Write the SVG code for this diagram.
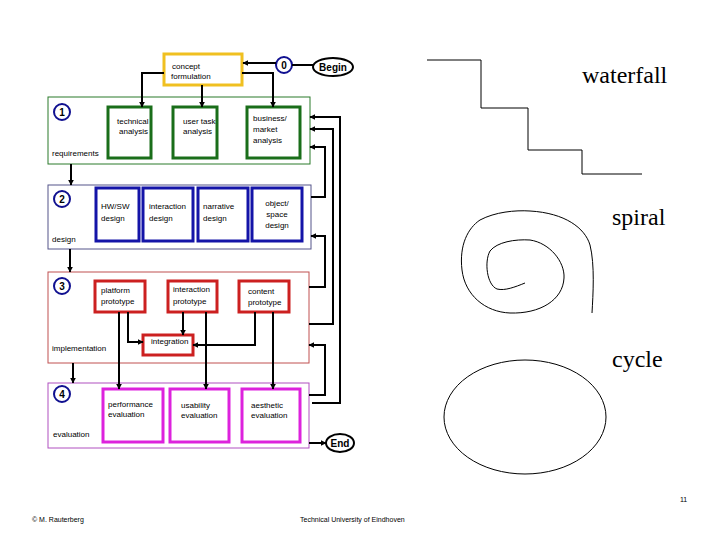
<svg xmlns="http://www.w3.org/2000/svg" width="720" height="540" viewBox="0 0 720 540">
<style>
.t{font-family:"Liberation Sans",Arial,sans-serif;font-size:8px;fill:#000}
.n{font-family:"Liberation Sans",Arial,sans-serif;font-size:10px;font-weight:bold;fill:#000}
.big{font-family:"Liberation Serif","Times New Roman",serif;font-size:24px;fill:#000}
.f{font-family:"Liberation Sans",Arial,sans-serif;font-size:7px;fill:#000}
.c{fill:none;stroke:#000;stroke-width:2}
.num{fill:#fff;stroke:#101090;stroke-width:2}
.yel{fill:#fff;stroke:#f0c020;stroke-width:3}
.gO{fill:#fff;stroke:#2a7a2a;stroke-width:1}
.gI{fill:#fff;stroke:#1a6e1a;stroke-width:3}
.bO{fill:#fff;stroke:#55558a;stroke-width:1}
.bI{fill:#fff;stroke:#1414a8;stroke-width:3}
.rO{fill:#fff;stroke:#c05050;stroke-width:1}
.rI{fill:#fff;stroke:#cc2020;stroke-width:3}
.mO{fill:#fff;stroke:#b050c0;stroke-width:1}
.mI{fill:#fff;stroke:#dd22dd;stroke-width:3}
.thin{fill:none;stroke:#000;stroke-width:1}
</style>
<defs>
<marker id="ah" viewBox="0 0 10 10" refX="9" refY="5" markerWidth="3" markerHeight="3" orient="auto" markerUnits="strokeWidth">
<path d="M0,0 L10,5 L0,10 z" fill="#000"/>
</marker>
</defs>

<g id="begin">
<ellipse cx="333" cy="67" rx="20" ry="9" fill="#fff" stroke="#000" stroke-width="2"/>
<text class="n" x="333" y="71" text-anchor="middle">Begin</text>
</g>
<g id="step0">
<circle class="num" cx="284" cy="65" r="8"/>
<text class="n" x="284" y="69" text-anchor="middle">0</text>
</g>
<g id="concept">
<rect class="yel" x="164" y="54" width="78" height="31"/>
<text class="t" x="172" y="69">concept</text>
<text class="t" x="171" y="79">formulation</text>
</g>

<g id="requirements">
<rect class="gO" x="48" y="97" width="262" height="67"/>
<circle class="num" cx="62" cy="112" r="8"/>
<text class="n" x="62" y="116" text-anchor="middle">1</text>
<text class="t" x="52" y="156">requirements</text>
</g>
<g id="technical">
<rect class="gI" x="108" y="107" width="43" height="51"/>
<text class="t" x="117" y="124">technical</text>
<text class="t" x="119" y="134">analysis</text>
</g>
<g id="usertask">
<rect class="gI" x="173" y="107" width="44" height="51"/>
<text class="t" x="183" y="124">user task</text>
<text class="t" x="183" y="134">analysis</text>
</g>
<g id="business">
<rect class="gI" x="247" y="107" width="53" height="51"/>
<text class="t" x="253" y="121">business/</text>
<text class="t" x="253" y="132">market</text>
<text class="t" x="253" y="143">analysis</text>
</g>

<g id="design">
<rect class="bO" x="48" y="185" width="263" height="64"/>
<circle class="num" cx="62" cy="199" r="8"/>
<text class="n" x="62" y="203" text-anchor="middle">2</text>
<text class="t" x="52" y="242">design</text>
</g>
<g id="hwsw">
<rect class="bI" x="96" y="188" width="43" height="53"/>
<text class="t" x="101" y="209">HW/SW</text>
<text class="t" x="101" y="221">design</text>
</g>
<g id="interactiondesign">
<rect class="bI" x="143" y="188" width="50" height="53"/>
<text class="t" x="149" y="209">interaction</text>
<text class="t" x="149" y="221">design</text>
</g>
<g id="narrative">
<rect class="bI" x="198" y="188" width="50" height="53"/>
<text class="t" x="203" y="209">narrative</text>
<text class="t" x="203" y="221">design</text>
</g>
<g id="objectspace">
<rect class="bI" x="252" y="188" width="50" height="53"/>
<text class="t" x="277" y="206" text-anchor="middle">object/</text>
<text class="t" x="277" y="217" text-anchor="middle">space</text>
<text class="t" x="277" y="228" text-anchor="middle">design</text>
</g>

<g id="implementation">
<rect class="rO" x="48" y="272" width="261" height="91"/>
<circle class="num" cx="62" cy="286" r="8"/>
<text class="n" x="62" y="290" text-anchor="middle">3</text>
<text class="t" x="52" y="351">implementation</text>
</g>
<g id="platform">
<rect class="rI" x="95" y="281" width="50" height="31"/>
<text class="t" x="101" y="293">platform</text>
<text class="t" x="101" y="304">prototype</text>
</g>
<g id="interactionprototype">
<rect class="rI" x="168" y="281" width="49" height="31"/>
<text class="t" x="173" y="292">interaction</text>
<text class="t" x="173" y="304">prototype</text>
</g>
<g id="content">
<rect class="rI" x="239" y="281" width="50" height="31"/>
<text class="t" x="248" y="294">content</text>
<text class="t" x="248" y="305">prototype</text>
</g>
<g id="integration">
<rect class="rI" x="143" y="335" width="50" height="20"/>
<text class="t" x="151" y="344">integration</text>
</g>

<g id="evaluation">
<rect class="mO" x="48" y="383" width="261" height="65"/>
<circle class="num" cx="62" cy="394" r="8"/>
<text class="n" x="62" y="398" text-anchor="middle">4</text>
<text class="t" x="53" y="437">evaluation</text>
</g>
<g id="performance">
<rect class="mI" x="103" y="389" width="60" height="53"/>
<text class="t" x="108" y="407">performance</text>
<text class="t" x="108" y="417">evaluation</text>
</g>
<g id="usability">
<rect class="mI" x="170" y="389" width="59" height="53"/>
<text class="t" x="181" y="408">usability</text>
<text class="t" x="181" y="418">evaluation</text>
</g>
<g id="aesthetic">
<rect class="mI" x="242" y="389" width="58" height="53"/>
<text class="t" x="251" y="408">aesthetic</text>
<text class="t" x="251" y="418">evaluation</text>
</g>
<g id="end">
<ellipse cx="340" cy="443" rx="14" ry="9" fill="#fff" stroke="#000" stroke-width="2"/>
<text class="n" x="340" y="447" text-anchor="middle">End</text>
</g>

<g id="connectors">
<path class="c" d="M313,65 L292,65"/>
<path class="c" d="M276,63 L243,63" marker-end="url(#ah)"/>
<path class="c" d="M164,73 L142,73 L142,107" marker-end="url(#ah)"/>
<path class="c" d="M202,85 L202,107" marker-end="url(#ah)"/>
<path class="c" d="M242,73 L273,73 L273,107" marker-end="url(#ah)"/>
<path class="c" d="M71,164 L71,185" marker-end="url(#ah)"/>
<path class="c" d="M70,249 L70,272" marker-end="url(#ah)"/>
<path class="c" d="M73,363 L73,383" marker-end="url(#ah)"/>
<path class="c" d="M128,312 L128,342 L143,342" marker-end="url(#ah)"/>
<path class="c" d="M183,312 L183,335" marker-end="url(#ah)"/>
<path class="c" d="M255,312 L255,345 L193,345" marker-end="url(#ah)"/>
<path class="c" d="M119,312 L119,389" marker-end="url(#ah)"/>
<path class="c" d="M206,312 L206,389" marker-end="url(#ah)"/>
<path class="c" d="M273,312 L273,389" marker-end="url(#ah)"/>
<path class="c" d="M309,443 L326,443" marker-end="url(#ah)"/>
<path class="c" d="M311,197 L325,197 L325,147 L310,147" marker-end="url(#ah)"/>
<path class="c" d="M309,287 L325,287 L325,236 L311,236" marker-end="url(#ah)"/>
<path class="c" d="M309,324 L333,324 L333,129 L310,129" marker-end="url(#ah)"/>
<path class="c" d="M309,395 L325,395 L325,345 L309,345" marker-end="url(#ah)"/>
<path class="c" d="M312,403 L340,403 L340,117 L310,117" marker-end="url(#ah)"/>
</g>

<g id="models">
<path class="thin" d="M427,60 L481,60 L481,108 L528,108 L528,150 L582,150 L582,174 L642,174"/>
<text class="big" x="582" y="83">waterfall</text>
<path class="thin" d="M525,283 C515,287 505,291 497,289 C487,285 484,262 490,251 C497,242 515,239 530,240 C550,243 565,262 564,278 C563,300 540,314 510,313 C485,312 465,295 462,270 C459,245 468,228 480,220 C495,212 515,210 530,211 C565,213 585,228 590,245 C595,265 593,295 592,313"/>
<text class="big" x="612" y="225">spiral</text>
<ellipse class="thin" cx="525" cy="417" rx="81" ry="57"/>
<text class="big" x="612" y="367">cycle</text>
</g>

<g id="footer">
<text class="f" x="680" y="502">11</text>
<text class="f" x="32" y="522">© M. Rauterberg</text>
<text class="f" x="300" y="522">Technical University of Eindhoven</text>
</g>
</svg>
